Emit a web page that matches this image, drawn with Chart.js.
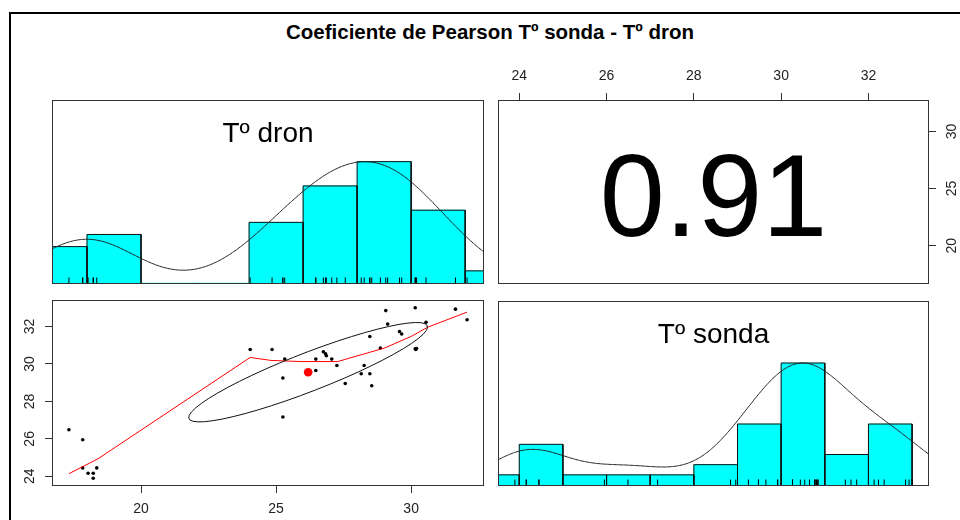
<!DOCTYPE html>
<html>
<head>
<meta charset="utf-8">
<script src="https://cdn.jsdelivr.net/npm/chart.js@4/dist/chart.umd.min.js"></script>
<style>
  html, body { margin: 0; padding: 0; background: #fff; width: 960px; height: 520px; overflow: hidden; }
  #frame { position: absolute; left: 9px; top: 12px; width: 980px; height: 540px;
           border-left: 2px solid #000; border-top: 2px solid #000; }
  #title { position: absolute; left: 52px; width: 876px; top: 20px; line-height: 20px;
           text-align: center; font: bold 20.5px "Liberation Sans", Arial, sans-serif; color: #000; }
  canvas { position: absolute; }
</style>
</head>
<body>
<div id="frame"></div>
<div id="title"></div>
<canvas id="histDron"  width="452" height="204" style="left:42px;top:90px;width:452px;height:204px"></canvas>
<canvas id="corr"      width="472" height="254" style="left:488px;top:40px;width:472px;height:254px"></canvas>
<canvas id="scatter"   width="482" height="230" style="left:12px;top:290px;width:482px;height:230px"></canvas>
<canvas id="histSonda" width="451" height="205" style="left:488px;top:291px;width:451px;height:205px"></canvas>
<script>
// Temperatura medida por la sonda y estimada por el dron en cada punto de muestreo (ºC)
const dron = [17.33, 17.84, 17.84, 18.04, 18.23, 18.23, 18.36,
              24.04, 24.85, 25.32, 25.25, 25.25,
              26.47, 26.47, 26.75, 26.83, 26.86, 27.06, 27.25, 27.56,
              28.15, 28.26, 28.47, 28.47, 28.54, 28.86, 29.06, 29.13, 29.57, 29.65,
              30.15, 30.15, 30.17, 30.20, 30.55, 31.64, 32.07];
const sonda = [26.49, 25.95, 24.45, 24.16, 24.16, 23.90, 24.45,
               30.77, 30.77, 30.26, 29.25, 27.17,
               30.26, 29.65, 30.65, 30.54, 30.44, 30.26, 29.92, 28.96,
               29.48, 29.92, 31.47, 29.48, 28.84, 30.85, 32.85, 32.13, 31.73, 31.60,
               33.00, 30.81, 30.78, 30.83, 32.23, 32.93, 32.36];
const pearsonR = 0.91;

// Cortes de los histogramas
const dronBreaks  = [16, 18, 20, 22, 24, 26, 28, 30, 32, 34];
const sondaBreaks = [23, 24, 25, 26, 27, 28, 29, 30, 31, 32, 33];

// Marcas de los ejes
const dronTicks  = [20, 25, 30];
const sondaTicks = [24, 26, 28, 30, 32];

// Curva suavizada (lowess) de sonda frente a dron
const smoothDron  = [17.33, 18.40, 24.04, 24.81, 25.93, 27.28, 29.01, 30.00, 30.62, 32.07];
const smoothSonda = [24.14, 24.93, 30.35, 30.19, 30.13, 30.13, 30.85, 31.47, 31.97, 32.77];

const titleText  = 'Coeficiente de Pearson Tº sonda - Tº dron';
const dronLabel  = 'Tº dron';
const sondaLabel = 'Tº sonda';

document.getElementById('title').textContent = titleText;

const FONT = '"Liberation Sans", Arial, sans-serif';
const INK = '#222';
const LINE = '#333';

// ---------- estadísticos ----------
const mean = a => a.reduce((s, v) => s + v, 0) / a.length;
const sd = a => { const m = mean(a); return Math.sqrt(a.reduce((s, v) => s + (v - m) ** 2, 0) / (a.length - 1)); };
function quantile(a, p) {
  const s = [...a].sort((x, y) => x - y);
  const h = (s.length - 1) * p, lo = Math.floor(h);
  return s[lo] + (h - lo) * (s[Math.min(lo + 1, s.length - 1)] - s[lo]);
}
function bwNrd(a) {
  const h = (quantile(a, 0.75) - quantile(a, 0.25)) / 1.34;
  return 1.06 * Math.min(sd(a), h) * Math.pow(a.length, -0.2);
}
// densidad kernel gaussiana, escalada a máximo 1
function density(a, adjust) {
  const bw = adjust * bwNrd(a);
  const lo = Math.min(...a) - 3 * bw, hi = Math.max(...a) + 3 * bw;
  const pts = [];
  for (let i = 0; i < 512; i++) {
    const x = lo + (hi - lo) * i / 511;
    let y = 0;
    for (const v of a) { const z = (x - v) / bw; y += Math.exp(-0.5 * z * z); }
    pts.push({ x, y });
  }
  const m = Math.max(...pts.map(p => p.y));
  pts.forEach(p => { p.y /= m; });
  return pts;
}
// rango del eje con un 4% de margen
function usrRange(a) {
  const lo = Math.min(...a), hi = Math.max(...a), d = (hi - lo) * 0.04;
  return [lo - d, hi + d];
}
function histCounts(a, br) {
  return br.slice(0, -1).map((b, i) =>
    a.filter(v => v <= br[i + 1] && (v > b || (i === 0 && v >= b))).length);
}

// ---------- utilidades de ejes y paneles ----------
function fixedSize(size) {
  return s => {
    if (s.isHorizontal()) s.height = size; else s.width = size;
    s.paddingLeft = s.paddingRight = s.paddingTop = s.paddingBottom = 0;
  };
}
const tickSet = values => s => { s.ticks = values.map(v => ({ value: v })); };
const axisGrid = { display: true, drawOnChartArea: false, drawTicks: true, tickLength: 8, color: LINE, lineWidth: 1 };
const tickFont = { family: FONT, size: 14 };

const panelBox = {
  id: 'panelBox',
  afterDatasetsDraw(chart) {
    const { ctx, chartArea: a } = chart;
    ctx.save();
    ctx.strokeStyle = LINE;
    ctx.lineWidth = 1;
    ctx.strokeRect(a.left - 0.5, a.top - 0.5, a.width + 1, a.height + 1);
    ctx.restore();
  }
};
const panelText = {
  id: 'panelText',
  afterDatasetsDraw(chart, args, opts) {
    if (!opts || !opts.text) return;
    const { ctx, chartArea: a } = chart;
    ctx.save();
    ctx.font = opts.size + 'px ' + FONT;
    ctx.fillStyle = '#000';
    ctx.textAlign = 'center';
    ctx.textBaseline = 'alphabetic';
    ctx.fillText(opts.text, (a.left + a.right) / 2, a.top - 1 + opts.baseline);
    ctx.restore();
  }
};
const baseOptions = () => ({
  responsive: false, animation: false, devicePixelRatio: 1, events: []
});

const dronUsr = usrRange(dron);
const sondaUsr = usrRange(sonda);

// ---------- histogramas de la diagonal ----------
function histogramPanel(id, values, breaks, label) {
  const counts = histCounts(values, breaks);
  const top = Math.max(...counts);
  const bars = counts.map((c, i) => ({ x: (breaks[i] + breaks[i + 1]) / 2, y: c / top }));
  const outline = [];
  counts.forEach((c, i) => {
    if (!c) return;
    const h = c / top;
    outline.push({ x: breaks[i], y: 0 }, { x: breaks[i], y: h },
                 { x: breaks[i + 1], y: h }, { x: breaks[i + 1], y: 0 },
                 { x: breaks[i + 1], y: null });
  });
  const rug = values.map(v => ({ x: v, y: 0.0225 }));
  const [lo, hi] = usrRange(values);
  new Chart(document.getElementById(id), {
    type: 'bar',
    data: {
      datasets: [
        { type: 'line', data: density(values, 1.2), borderColor: '#222', borderWidth: 1,
          pointRadius: 0, tension: 0, fill: false },
        { type: 'scatter', data: rug, pointStyle: 'line', pointRotation: 90, pointRadius: 2.75,
          pointBorderColor: '#000', pointBackgroundColor: '#000', pointBorderWidth: 1 },
        { type: 'line', data: outline, borderColor: '#111', borderWidth: 1, pointRadius: 0,
          tension: 0, fill: false, spanGaps: false },
        { type: 'bar', data: bars, backgroundColor: '#00FFFF', borderWidth: 0,
          barPercentage: 1, categoryPercentage: 1 }
      ]
    },
    options: Object.assign(baseOptions(), {
      layout: { padding: 11 },
      scales: {
        x: { type: 'linear', min: lo, max: hi, offset: false, display: true,
             afterBuildTicks: tickSet(breaks), afterFit: fixedSize(0),
             ticks: { display: false, includeBounds: false }, grid: { display: false }, border: { display: false } },
        y: { type: 'linear', min: 0, max: 1.5, display: false }
      },
      plugins: { legend: { display: false }, tooltip: { enabled: false },
                 panelText: { text: label, size: 28, baseline: 42.3 } }
    }),
    plugins: [panelBox, panelText]
  });
}
histogramPanel('histDron', dron, dronBreaks, dronLabel);
histogramPanel('histSonda', sonda, sondaBreaks, sondaLabel);

// ---------- panel superior: coeficiente de correlación ----------
new Chart(document.getElementById('corr'), {
  type: 'scatter',
  data: { datasets: [{ data: [] }] },
  options: Object.assign(baseOptions(), {
    layout: { padding: { left: 11, top: 0, right: 0, bottom: 11 } },
    scales: {
      x: { type: 'linear', position: 'top', min: sondaUsr[0], max: sondaUsr[1],
           afterBuildTicks: tickSet(sondaTicks), afterFit: fixedSize(61),
           grid: axisGrid, border: { display: false },
           ticks: { font: tickFont, color: INK, padding: 8, maxRotation: 0, autoSkip: false, callback: v => String(v) } },
      y: { type: 'linear', position: 'right', min: dronUsr[0], max: dronUsr[1],
           afterBuildTicks: tickSet(dronTicks), afterFit: fixedSize(32),
           grid: axisGrid, border: { display: false },
           ticks: { font: tickFont, color: INK, padding: 8, minRotation: 90, maxRotation: 90,
                    crossAlign: 'center', autoSkip: false, callback: v => String(v) } }
    },
    plugins: { legend: { display: false }, tooltip: { enabled: false },
               panelText: { text: pearsonR.toFixed(2), size: 117, baseline: 135.5 } }
  }),
  plugins: [panelBox, panelText]
});

// ---------- panel inferior: dispersión, suavizado y elipse ----------
const mx = mean(dron), my = mean(sonda), sx = sd(dron), sy = sd(sonda);
const ellipse = [];
{
  const th = Math.sign(pearsonR) / Math.SQRT2, a = Math.sqrt(1 + pearsonR), b = Math.sqrt(1 - pearsonR);
  for (let k = 0; k <= 51; k++) {
    const t = k * 2 * Math.PI / 51, c = Math.cos(t), s = Math.sin(t);
    ellipse.push({ x: (c * a * th - s * b * th) * sx + mx, y: (c * a * th + s * b * th) * sy + my });
  }
}
new Chart(document.getElementById('scatter'), {
  type: 'scatter',
  data: {
    datasets: [
      { data: [{ x: mx, y: my }], pointRadius: 4.3, pointBackgroundColor: '#ff0000',
        pointBorderWidth: 0, showLine: false },
      { type: 'line', data: ellipse, borderColor: '#111', borderWidth: 1, pointRadius: 0,
        tension: 0, fill: false },
      { type: 'line', data: smoothDron.map((x, i) => ({ x, y: smoothSonda[i] })), borderColor: '#ff0000',
        borderWidth: 1, pointRadius: 0, tension: 0, fill: false },
      { data: dron.map((x, i) => ({ x, y: sonda[i] })), pointRadius: 1.8,
        pointBackgroundColor: '#000', pointBorderWidth: 0 }
    ]
  },
  options: Object.assign(baseOptions(), {
    layout: { padding: { left: 0, top: 11, right: 11, bottom: 0 } },
    scales: {
      x: { type: 'linear', position: 'bottom', min: dronUsr[0], max: dronUsr[1],
           afterBuildTicks: tickSet(dronTicks), afterFit: fixedSize(35),
           grid: axisGrid, border: { display: false },
           ticks: { font: tickFont, color: INK, padding: 8, maxRotation: 0, autoSkip: false, callback: v => String(v) } },
      y: { type: 'linear', position: 'left', min: sondaUsr[0], max: sondaUsr[1],
           afterBuildTicks: tickSet(sondaTicks), afterFit: fixedSize(41),
           grid: axisGrid, border: { display: false },
           ticks: { font: tickFont, color: INK, padding: 7, minRotation: 90, maxRotation: 90,
                    crossAlign: 'center', autoSkip: false, callback: v => String(v) } }
    },
    plugins: { legend: { display: false }, tooltip: { enabled: false } }
  }),
  plugins: [panelBox]
});
</script>
</body>
</html>
